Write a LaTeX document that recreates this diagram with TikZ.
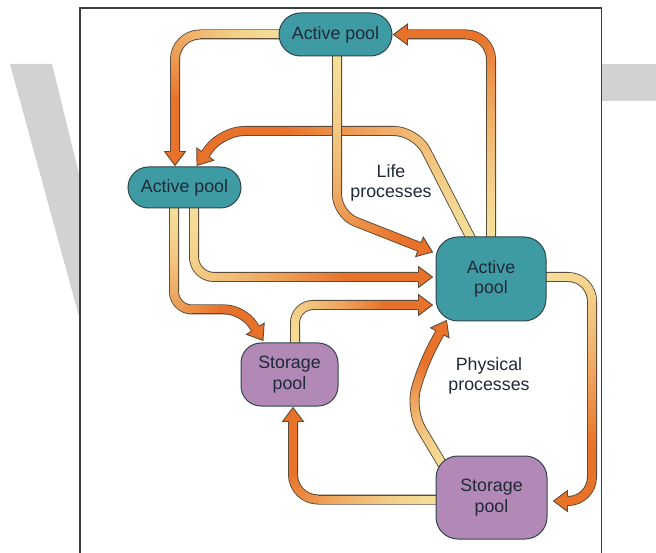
\documentclass[tikz,border=0pt]{standalone}
\usepackage{fontspec}
\setmainfont{Liberation Sans}
\usetikzlibrary{decorations.markings}

\definecolor{poolteal}{HTML}{3F9BA3}
\definecolor{poolviolet}{HTML}{B288B6}
\definecolor{poolline}{HTML}{2F464A}
\definecolor{labeltext}{HTML}{1F2937}
\definecolor{flowpale}{HTML}{F5DE98}
\definecolor{floworange}{HTML}{E8722A}
\definecolor{flowline}{HTML}{5E4A38}
\definecolor{markgray}{HTML}{D2D2D2}
\definecolor{framegray}{HTML}{3C3C3C}

\pgfdeclarelayer{backdrop}
\pgfdeclarelayer{flows}
\pgfsetlayers{backdrop,flows,main}

\newcommand\poolfont{\fontsize{17.8}{20.5}\selectfont}
\newcommand\flowrate{1.4}

% one thin slice of the shaded shaft, across the path tangent
\newcommand\flowslice{%
  \pgfsetcornersarced{\pgfpointorigin}%
  \pgfmathsetmacro\flowfrac{(\pgfkeysvalueof{/pgf/decoration/mark info/distance from start})/(\pgfdecoratedpathlength)}%
  \pgfmathsetmacro\flowmix{100*(min(1,\flowrate*\flowfrac))^1.5}%
  \pgfsetfillcolor{floworange!\flowmix!flowpale}%
  \pgfpathrectangle{\pgfpoint{-0.8pt}{-4pt}}{\pgfpoint{1.6pt}{8pt}}%
  \pgfusepath{fill}%
}
% outlined arrow head at the end of the path
\newcommand\flowhead{%
  \pgfsetcornersarced{\pgfpointorigin}%
  \pgfsetfillcolor{floworange}%
  \pgfpathmoveto{\pgfpointorigin}%
  \pgfpathlineto{\pgfpoint{-14pt}{10.5pt}}%
  \pgfpathlineto{\pgfpoint{-14pt}{-10.5pt}}%
  \pgfpathclose
  \pgfusepath{fill}%
  \pgfsetstrokecolor{flowline}%
  \pgfsetlinewidth{0.9pt}%
  \pgfsetmiterjoin
  \pgfpathmoveto{\pgfpoint{-14pt}{4.6pt}}%
  \pgfpathlineto{\pgfpoint{-14pt}{10.5pt}}%
  \pgfpathlineto{\pgfpointorigin}%
  \pgfpathlineto{\pgfpoint{-14pt}{-10.5pt}}%
  \pgfpathlineto{\pgfpoint{-14pt}{-4.6pt}}%
  \pgfusepath{stroke}%
}
% a flow: dark rim, shaded shaft, head
\newcommand\flowarrow[2][]{%
  \draw[flowline, line width=10pt, shorten >=11pt, #1] #2;
  \path[#1, decoration={markings,
      mark=between positions 0 and -11pt step 1pt with {\flowslice}}, decorate] #2;
  \path[#1, decoration={markings,
      mark=at position 0.9999 with {\flowhead}}, decorate] #2;
}

\tikzset{
  pool/.style={draw=poolline, line width=1pt, inner sep=0pt, align=center,
    text=labeltext, font=\poolfont},
  flowlabel/.style={inner sep=0pt, align=center, text=labeltext, font=\poolfont}
}

\begin{document}
\begin{tikzpicture}[x=1pt, y=-1pt]
\useasboundingbox (0,0) rectangle (656,553);

\begin{pgfonlayer}{backdrop}
  \fill[white] (0,0) rectangle (656,553);
  \fill[markgray] (10,64) -- (52,64) -- (80,178) -- (80,320) -- cycle;
  \fill[markgray] (602,64) rectangle (656,101);
  \draw[framegray, line width=1.4pt, fill=white] (80,8) rectangle (601.5,575);
\end{pgfonlayer}

% pools
\node[pool, fill=poolteal, rounded corners=21.5pt, minimum width=113pt, minimum height=43pt]
  (At) at (335.5,34.5) {Active pool};
\node[pool, fill=poolteal, rounded corners=20.5pt, minimum width=113pt, minimum height=41pt]
  (Al) at (184.5,187.5) {Active pool};
\node[pool, fill=poolteal, rounded corners=22pt, minimum width=110pt, minimum height=84pt]
  (Ar) at (491,279) {Active\\pool};
\node[pool, fill=poolviolet, rounded corners=20pt, minimum width=97pt, minimum height=63pt]
  (Sl) at (289.5,374.5) {Storage\\pool};
\node[pool, fill=poolviolet, rounded corners=22pt, minimum width=111pt, minimum height=83pt]
  (Sr) at (491.5,497.5) {Storage\\pool};

\node[flowlabel] (life) at (391,183) {Life\\processes};
\node[flowlabel] (phys) at (489,376) {Physical\\processes};

% flows between the pools
\begin{pgfonlayer}{flows}
  \flowarrow[rounded corners=22pt]{([xshift=-18pt,yshift=-6pt]Ar.north)
    -- (416,131) -- (222,131) -- ([xshift=12.5pt,yshift=1pt]Al.north)}
  \flowarrow[rounded corners=25pt]{([xshift=2pt]At.west)
    -| ([xshift=-9.5pt,yshift=1pt]Al.north)}
  {\renewcommand\flowrate{1.15}%
  \flowarrow[rounded corners=20pt]{([xshift=1.5pt,yshift=2pt]At.south)
    -- ++(0,160) -- ([xshift=-3pt,yshift=27pt]Ar.west)}}
  \flowarrow[rounded corners=25pt]{([yshift=-2pt]Ar.north)
    |- ([xshift=1pt]At.east)}
  \flowarrow[rounded corners=20pt]{([xshift=9.5pt,yshift=2pt]Al.south)
    |- ([xshift=-3pt,yshift=2pt]Ar.west)}
  \flowarrow[rounded corners=18pt]{([xshift=-10.5pt,yshift=2pt]Al.south)
    -- ++(0,103) -- ++(69,0) -- ([xshift=-26.5pt,yshift=2pt]Sl.north)}
  \flowarrow[rounded corners=18pt]{([xshift=5.5pt,yshift=-2pt]Sl.north)
    |- ([xshift=-3pt,yshift=-26pt]Ar.west)}
  \flowarrow[rounded corners=25pt]{([xshift=2pt,yshift=-2pt]Sr.west)
    -| ([xshift=3.5pt,yshift=-1pt]Sl.south)}
  \flowarrow[rounded corners=22pt]{([xshift=10pt,yshift=-14pt]Sr.north west)
    -- (410,410) -- (423,364) -- ([xshift=11pt,yshift=1pt]Ar.south west)}
  \flowarrow[rounded corners=24pt]{([xshift=-2pt,yshift=2pt]Ar.east)
    -- ++(47.5,0) |- ([xshift=6pt,yshift=-3.5pt]Sr.east)}
\end{pgfonlayer}
\end{tikzpicture}
\end{document}
